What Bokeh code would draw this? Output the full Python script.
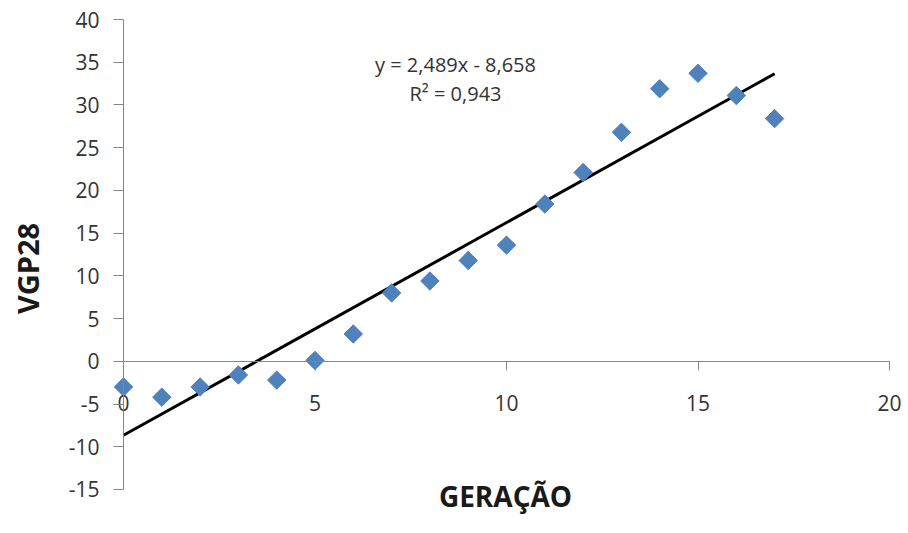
from bokeh.plotting import figure
from bokeh.models import (Range1d, LinearAxis, FixedTicker, Label,
                          ColumnDataSource, PrintfTickFormatter)
from bokeh.embed import file_html
from bokeh.resources import INLINE
import math

# ---- data ----
generation = [0, 1, 2, 3, 4, 5, 6, 7, 8, 9, 10, 11, 12, 13, 14, 15, 16, 17]
vgp28 = [-3.0, -4.2, -3.0, -1.6, -2.2, 0.1, 3.2, 8.0, 9.4, 11.8, 13.6, 18.4,
         22.1, 26.8, 31.9, 33.7, 31.1, 28.4]
slope = 2.489
intercept = -8.658
r2 = 0.943
x_ticks = [0, 5, 10, 15, 20]
y_ticks = [-15, -10, -5, 0, 5, 10, 15, 20, 25, 30, 35, 40]
x_title = "GERAÇÃO"
y_title = "VGP28"

# ---- layout geometry (pixels) ----
W, H = 908, 533
PX_X0, PX_PER_X = 123.0, 38.3     # pixel of x = 0, pixels per x unit
PX_YTOP, PX_PER_Y = 19.0, 8.545   # pixel of y = 40, pixels per y unit
x_lo = x_ticks[0] - PX_X0 / PX_PER_X
x_hi = x_ticks[0] + (W - PX_X0) / PX_PER_X
y_hi = y_ticks[-1] + PX_YTOP / PX_PER_Y
y_lo = y_ticks[-1] - (H - PX_YTOP) / PX_PER_Y

FONT = "Open Sans"
AXIS_COL = "#868686"
LABEL_COL = "#333333"
TITLE_COL = "#1a1a1a"

p = figure(width=W, height=H, output_backend="svg", toolbar_location=None,
           x_range=Range1d(x_lo, x_hi), y_range=Range1d(y_lo, y_hi),
           x_axis_type=None, y_axis_type=None,
           min_border_left=0, min_border_right=0, min_border_top=0,
           min_border_bottom=0)
p.outline_line_color = None
p.xgrid.visible = False
p.ygrid.visible = False
p.background_fill_color = "white"
p.border_fill_color = "white"

# y axis at x = 0
yax = LinearAxis(ticker=FixedTicker(ticks=y_ticks), fixed_location=x_ticks[0],
                 bounds=(y_ticks[0], y_ticks[-1]),
                 formatter=PrintfTickFormatter(format="%d"))
yax.major_label_text_font = FONT
yax.major_label_text_font_size = "21px"
yax.major_label_text_color = LABEL_COL
yax.major_label_standoff = 14
yax.axis_line_color = AXIS_COL
yax.major_tick_line_color = AXIS_COL
yax.major_tick_out = 10
yax.major_tick_in = 0
yax.minor_tick_line_color = None
p.add_layout(yax, "left")

# x axis crossing at y = 0
xax = LinearAxis(ticker=FixedTicker(ticks=x_ticks), fixed_location=0,
                 bounds=(x_ticks[0], x_ticks[-1]),
                 formatter=PrintfTickFormatter(format="%d"))
xax.major_label_text_font = FONT
xax.major_label_text_font_size = "21px"
xax.major_label_text_color = LABEL_COL
xax.major_label_standoff = 25
xax.axis_line_color = AXIS_COL
xax.major_tick_line_color = AXIS_COL
xax.major_tick_out = 9
xax.major_tick_in = 0
xax.minor_tick_line_color = None
p.add_layout(xax, "below")

# axis titles
p.add_layout(Label(x=505, y=H - 495, x_units="screen", y_units="screen",
                   text=x_title, text_align="center", text_baseline="middle",
                   text_font=FONT, text_font_style="bold",
                   text_font_size="28px", text_color=TITLE_COL))
p.add_layout(Label(x=27, y=H - 268, x_units="screen", y_units="screen",
                   text=y_title, angle=math.pi / 2, text_align="center",
                   text_baseline="middle", text_font=FONT,
                   text_font_style="bold", text_font_size="29px",
                   text_color=TITLE_COL))

# trend line
x0, x1 = min(generation), max(generation)
trend = ColumnDataSource(dict(x=[x0, x1],
                              y=[slope * x0 + intercept, slope * x1 + intercept]))
p.line("x", "y", source=trend, line_color="black", line_width=3)

# points
src = ColumnDataSource(dict(x=generation, y=vgp28))
p.scatter("x", "y", source=src, marker="square", size=13, angle=math.pi / 4,
          fill_color="#4F81BD", line_color="#4F81BD")

eq1 = ("y = %.3fx - %.3f" % (slope, abs(intercept))).replace(".", ",")
eq2 = ("R² = %.3f" % r2).replace(".", ",")
p.add_layout(Label(x=455, y=H - 64, x_units="screen", y_units="screen",
                   text=eq1, text_align="center", text_baseline="middle",
                   text_font=FONT, text_font_size="20px", text_color=LABEL_COL))
p.add_layout(Label(x=455, y=H - 93, x_units="screen", y_units="screen",
                   text=eq2, text_align="center", text_baseline="middle",
                   text_font=FONT, text_font_size="20px", text_color=LABEL_COL))

open("out.html", "w").write(file_html(p, INLINE))
